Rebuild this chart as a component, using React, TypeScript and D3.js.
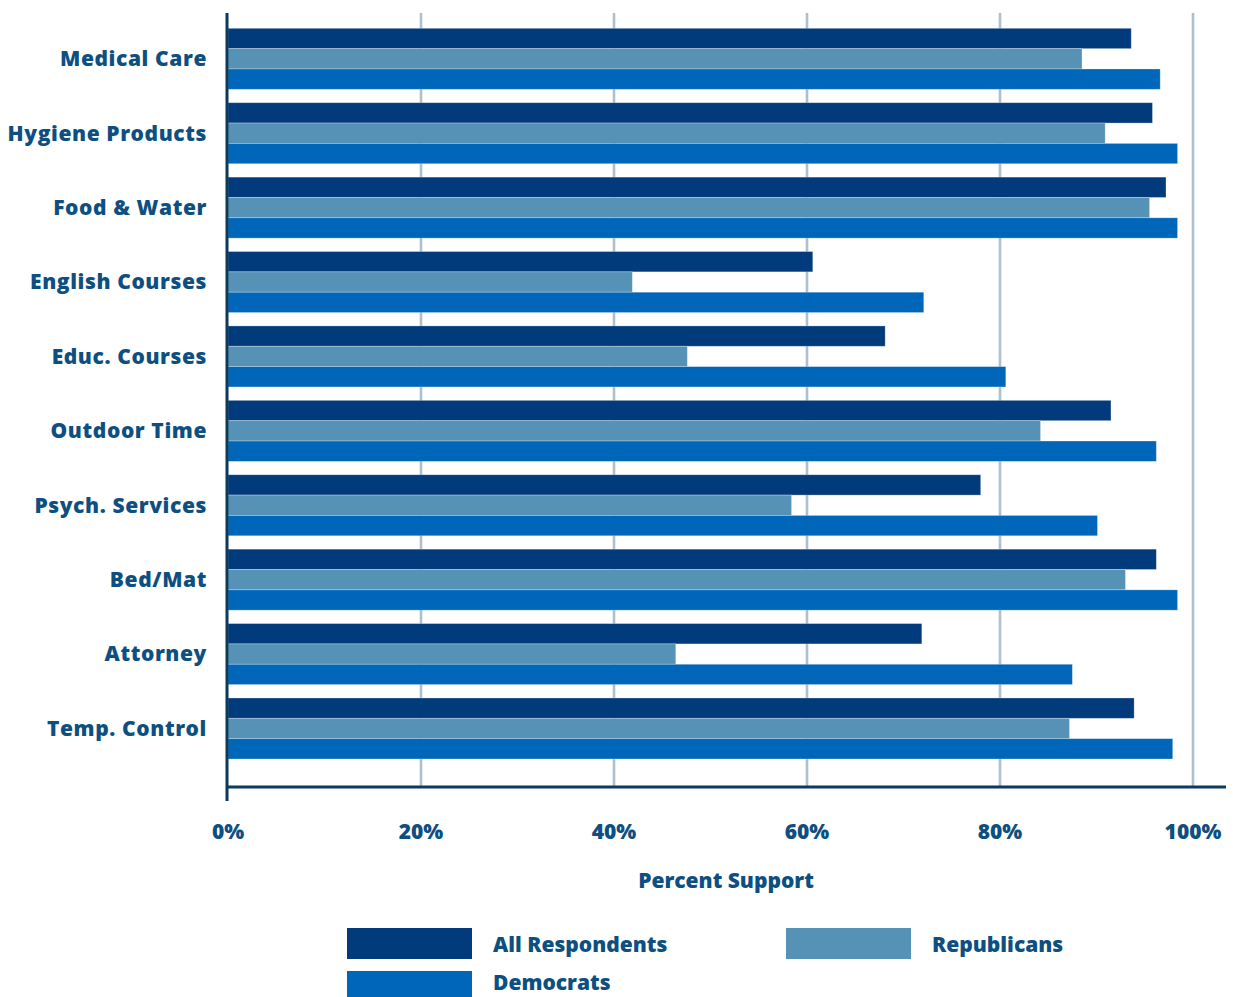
import * as d3 from "d3";

const categories = [
  "Medical Care",
  "Hygiene Products",
  "Food & Water",
  "English Courses",
  "Educ. Courses",
  "Outdoor Time",
  "Psych. Services",
  "Bed/Mat",
  "Attorney",
  "Temp. Control",
];
const allRespondents = [93.6, 95.8, 97.2, 60.6, 68.1, 91.5, 78.0, 96.2, 71.9, 93.9];
const republicans = [88.5, 90.9, 95.5, 41.9, 47.6, 84.2, 58.4, 93.0, 46.4, 87.2];
const democrats = [96.6, 98.4, 98.4, 72.1, 80.6, 96.2, 90.1, 98.4, 87.5, 97.9];
const seriesNames = ["All Respondents", "Republicans", "Democrats"];
const ticks = [0, 20, 40, 60, 80, 100];

const colors = ["#023b7b", "#5692b5", "#0066b9"];
const textColor = "#0d4f80";
const font = "'Open Sans', Lato, sans-serif";

export default function App() {
  const W = 1233;
  const H = 997;
  const x = d3.scaleLinear().domain([0, 100]).range([228, 1193]);
  const y = d3
    .scaleBand<string>()
    .domain(categories)
    .range([28.3, 759])
    .paddingInner(0.18)
    .paddingOuter(0);
  const bw = y.bandwidth() / 3;
  const series = [allRespondents, republicans, democrats];

  return (
    <svg
      width={W}
      height={H}
      style={{ position: "absolute", left: 0, top: 0, background: "#fff" }}
      fontFamily={font}
    >
      {/* gridlines */}
      {ticks.slice(1).map((t) => (
        <line
          key={t}
          x1={x(t)}
          x2={x(t)}
          y1={13}
          y2={787}
          stroke="#aebfcd"
          strokeWidth={2.6}
        />
      ))}

      {/* bars */}
      {categories.map((c, i) => (
        <g key={c}>
          {series.map((s, j) => (
            <rect
              key={j}
              x={x(0)}
              y={(y(c) ?? 0) + j * bw}
              width={x(s[i]) - x(0)}
              height={bw}
              fill={colors[j]}
              stroke="#ffffff"
              strokeOpacity={0.35}
              strokeWidth={0.8}
            />
          ))}
          <text
            x={207}
            y={(y(c) ?? 0) + y.bandwidth() / 2}
            dy="0.35em"
            textAnchor="end"
            fontSize={21}
            fontWeight={800}
            letterSpacing={0.6}
            fill={textColor}
          >
            {c}
          </text>
        </g>
      ))}

      {/* axes */}
      <line x1={227} x2={227} y1={13} y2={801} stroke="#0b3a5c" strokeWidth={3} />
      <line x1={226} x2={1226} y1={787} y2={787} stroke="#0b3a5c" strokeWidth={3} />

      {ticks.map((t) => (
        <text
          key={t}
          x={x(t)}
          y={839}
          textAnchor="middle"
          fontSize={21}
          fontWeight={800}
          fill={textColor}
        >
          {t}%
        </text>
      ))}

      <text
        x={726}
        y={888}
        textAnchor="middle"
        fontSize={21}
        fontWeight={800}
        fill={textColor}
      >
        Percent Support
      </text>

      {/* legend */}
      {seriesNames.map((n, j) => {
        const lx = j === 1 ? 786 : 347;
        const ly = j === 2 ? 971 : 928;
        return (
          <g key={n}>
            <rect x={lx} y={ly} width={125} height={31} fill={colors[j]} />
            <text
              x={lx + 146}
              y={j === 2 ? 990 : ly + 24}
              fontSize={21}
              fontWeight={800}
              fill={textColor}
            >
              {n}
            </text>
          </g>
        );
      })}
    </svg>
  );
}
